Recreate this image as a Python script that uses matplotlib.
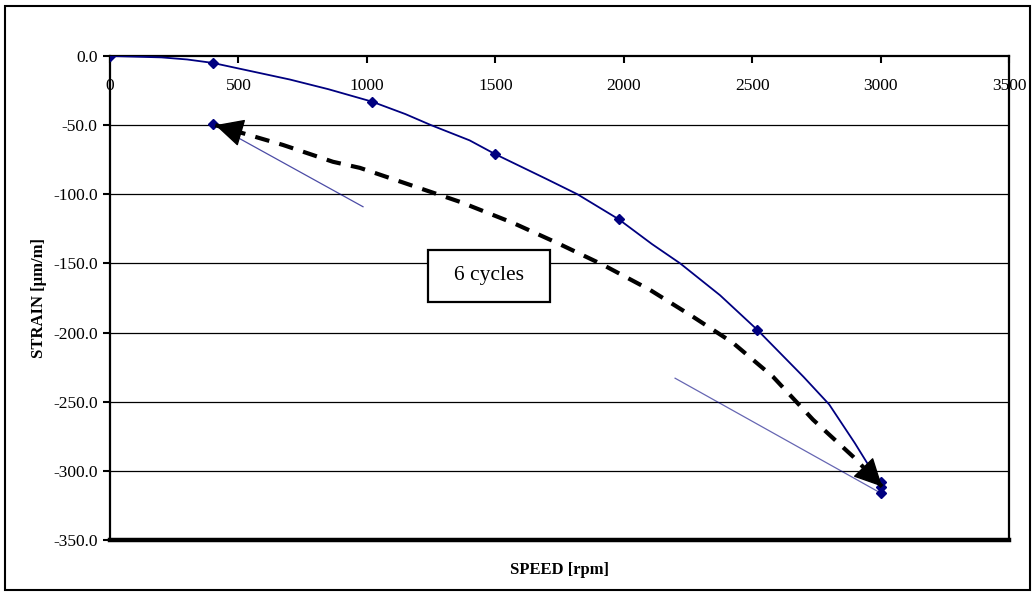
import numpy as np
import matplotlib.pyplot as plt
from matplotlib.patches import Rectangle

plt.rcParams['font.family'] = ['Liberation Serif', 'DejaVu Serif']

# loading curve (speed up to 3000 rpm)
speed_up = [0, 100, 200, 300, 400, 550, 700, 850, 1020, 1150, 1250, 1400, 1500,
            1600, 1700, 1820, 1980, 2110, 2220, 2375, 2520, 2610, 2700, 2800,
            2900, 2960, 3000, 3000]
strain_up = [0, -0.5, -1, -2.5, -5, -11, -17, -24, -33, -42, -50, -61, -71,
             -80, -89, -100, -118, -136, -150, -173, -198, -215, -232, -252,
             -280, -298, -309, -316]

# measured points
mark_speed = [0, 400, 1020, 1500, 1980, 2520, 3000, 3000, 3000, 400]
mark_strain = [0, -5, -33, -71, -118, -198, -308, -312, -316, -49]

# partial unloading traces
unload1_speed = [400, 985]
unload1_strain = [-49, -109]
unload2_speed = [3000, 2200]
unload2_strain = [-316, -233]

# cycling path (dashed double arrow)
cyc_speed = [410, 673, 868, 973, 1168, 1363, 1569, 1740, 1919, 2102, 2270,
             2425, 2581, 2737, 2893, 3006]
cyc_strain = [-50, -64.3, -76.5, -80.9, -93.2, -105.5, -120.7, -135.1, -151.0,
              -169.1, -188.6, -207.4, -231.9, -263.0, -289.7, -311.4]

x_ticks = [0, 500, 1000, 1500, 2000, 2500, 3000, 3500]
y_ticks = [0, -50, -100, -150, -200, -250, -300, -350]

navy = '#000080'

fig = plt.figure(figsize=(10.36, 5.94), dpi=100)
ax = fig.add_axes([110/1036, 54/594, 899/1036, 484/594])

fig.patches.append(Rectangle((5/1036, 4/594), 1025/1036, 584/594,
                             transform=fig.transFigure, fill=False,
                             edgecolor='black', linewidth=1.5))

# grid
for yv in y_ticks[1:-1]:
    ax.axhline(yv, color='black', lw=0.9, zorder=1)

ax.plot(unload1_speed, unload1_strain, color=navy, lw=0.9, alpha=0.7, zorder=2)
ax.plot(unload2_speed, unload2_strain, color=navy, lw=0.9, alpha=0.6, zorder=2)

ax.plot(speed_up, strain_up, color=navy, lw=1.3, zorder=3)
ax.plot(mark_speed, mark_strain, linestyle='none', marker='D', markersize=5,
        color=navy, zorder=4)

ax.plot(cyc_speed, cyc_strain, color='black', lw=3,
        linestyle=(2, (3.5, 2.5)), zorder=5)
arrow = dict(arrowstyle='-|>,head_length=0.9,head_width=0.45', color='black',
             lw=1, mutation_scale=20, shrinkA=0, shrinkB=0)
for i, j in [(0, 1), (-1, -2)]:
    tip = (cyc_speed[i], cyc_strain[i])
    back = (tip[0] + 0.08 * (cyc_speed[j] - tip[0]),
            tip[1] + 0.08 * (cyc_strain[j] - tip[1]))
    ax.annotate('', xy=tip, xytext=back, arrowprops=arrow, zorder=6)

# "6 cycles" label box
ax.add_patch(Rectangle((1238, -177.7), 475, 37.5, facecolor='white',
                       edgecolor='black', linewidth=1.6, zorder=7))
ax.text(1475, -159, '6 cycles', fontsize=15.5, ha='center', va='center',
        zorder=8)

ax.set_xlim(0, 3500)
ax.set_ylim(-350, 0)
ax.set_xticks(x_ticks)
ax.set_xticklabels([str(v) for v in x_ticks])
ax.set_yticks(y_ticks)
ax.set_yticklabels([f'{v:.1f}' for v in y_ticks])

ax.spines['bottom'].set_position(('data', 0))
ax.spines['top'].set_visible(False)
for s in ['bottom', 'left', 'right']:
    ax.spines[s].set_linewidth(1.6)
ax.axhline(-350, color='black', lw=3.2, clip_on=False, zorder=8)

ax.tick_params(axis='x', direction='out', length=5, width=1.5, pad=11,
               labelsize=12.5)
ax.tick_params(axis='y', direction='out', length=5, width=1.5, pad=4,
               labelsize=12.5)

ax.set_ylabel('STRAIN [µm/m]', fontsize=12, fontweight='bold', labelpad=4)
fig.text(560/1036, 1 - 570/594, 'SPEED [rpm]', fontsize=12,
         fontweight='bold', ha='center', va='center')

fig.savefig('out.png', dpi=100)
